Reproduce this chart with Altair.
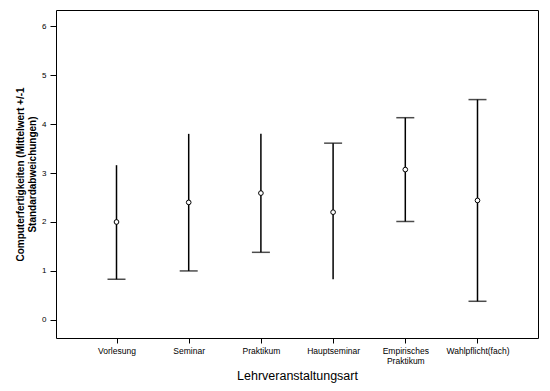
import altair as alt
import pandas as pd

categories = ["Vorlesung", "Seminar", "Praktikum", "Hauptseminar",
              "Empirisches Praktikum", "Wahlpflicht(fach)"]
means = [2.00, 2.40, 2.59, 2.20, 3.07, 2.44]
upper = [3.16, 3.80, 3.80, 3.61, 4.13, 4.50]
lower = [0.83, 1.00, 1.38, 0.83, 2.01, 0.38]
upper_cap = [False, False, False, True, True, True]
lower_cap = [True, True, True, False, True, True]
y_ticks = [0, 1, 2, 3, 4, 5, 6]

df = pd.DataFrame({"cat": categories, "mean": means, "hi": upper, "lo": lower})
caps = pd.DataFrame(
    [{"cat": c, "v": u} for c, u, f in zip(categories, upper, upper_cap) if f]
    + [{"cat": c, "v": l} for c, l, f in zip(categories, lower, lower_cap) if f]
)

FONT = "Liberation Sans"

x = alt.X(
    "cat:N",
    sort=categories,
    scale=alt.Scale(type="point", padding=0.838),
    axis=alt.Axis(
        title="Lehrveranstaltungsart",
        titleFont=FONT, titleFontSize=12.5, titleFontWeight="normal",
        titleColor="black", titlePadding=4,
        labelFont=FONT, labelFontSize=8.5, labelColor="black",
        labelAngle=0, labelPadding=3,
        labelExpr="datum.label == 'Empirisches Praktikum' ? ['Empirisches', 'Praktikum'] : datum.label",
        tickColor="black", tickSize=5, tickWidth=1,
        domain=False, grid=False,
    ),
)

yscale = alt.Scale(domain=[-0.37, 6.33], nice=False, zero=False)
yaxis = alt.Axis(
    title=["Computerfertigkeiten (Mittelwert +/-1", "Standardabweichungen)"],
    titleFont=FONT, titleFontSize=10, titleFontWeight="bold",
    titleColor="black", titlePadding=4,
    labelFont=FONT, labelFontSize=8, labelColor="black", labelPadding=4,
    values=y_ticks, tickColor="black", tickSize=6, tickWidth=1,
    domain=False, grid=False,
)

base = alt.Chart(df)

rules = base.mark_rule(color="black", strokeWidth=1.5).encode(
    x=x,
    y=alt.Y("lo:Q", scale=yscale, axis=yaxis),
    y2="hi:Q",
)

cap_marks = alt.Chart(caps).mark_tick(
    color="black", thickness=1.5, size=18
).encode(
    x=alt.X("cat:N", sort=categories),
    y=alt.Y("v:Q"),
)

points = base.mark_point(
    shape="circle", size=22, filled=True, fill="white",
    stroke="black", strokeWidth=1, opacity=1
).encode(
    x=alt.X("cat:N", sort=categories),
    y=alt.Y("mean:Q"),
)

chart = (rules + cap_marks + points).properties(
    width=482, height=328,
    background="white",
    autosize=alt.AutoSizeParams(type="none"),
    padding={"left": 48, "top": 2, "right": 4, "bottom": 50},
).configure_view(
    stroke="black", strokeWidth=1
)

chart.save("out.html", embed_options={"renderer": "svg", "actions": False})
